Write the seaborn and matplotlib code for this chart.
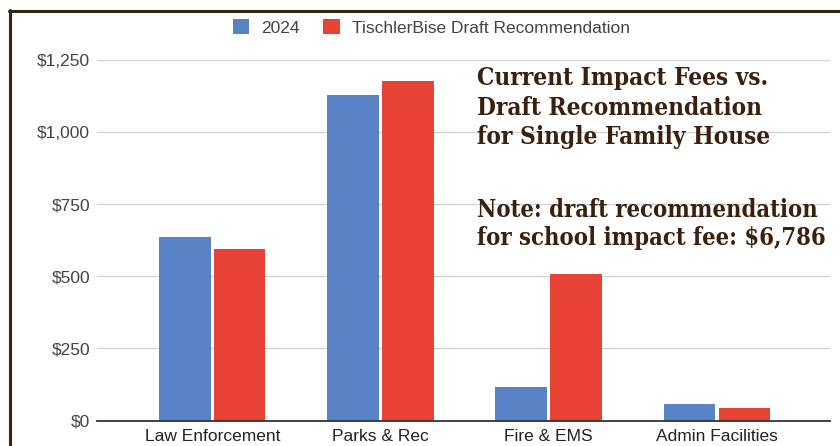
import matplotlib
matplotlib.use("Agg")
import matplotlib.pyplot as plt
from matplotlib.lines import Line2D
from matplotlib.patches import Patch
from matplotlib.ticker import FuncFormatter
import seaborn as sns
import pandas as pd

categories = ["Law Enforcement", "Parks & Rec", "Fire & EMS", "Admin Facilities"]
fees_2024 = [635, 1130, 117, 56]
fees_draft = [595, 1178, 509, 43]
series_names = ["2024", "TischlerBise Draft Recommendation"]
y_ticks = [0, 250, 500, 750, 1000, 1250]
title_lines = ["Current Impact Fees vs.", "Draft Recommendation", "for Single Family House"]
note_lines = ["Note: draft recommendation", "for school impact fee: $6,786"]

colors = ["#5a82c6", "#e94335"]
brown = "#3a200d"

df = pd.DataFrame({
    "category": categories * 2,
    "series": [series_names[0]] * len(categories) + [series_names[1]] * len(categories),
    "fee": fees_2024 + fees_draft,
})

sns.set_theme(style="white")
plt.rcParams["font.family"] = ["Liberation Sans", "DejaVu Sans"]

W, H = 840, 446
fig = plt.figure(figsize=(W / 100, H / 100), dpi=100)
ax = fig.add_axes([97 / W, 1 - 420.5 / H, 733 / W, 360.5 / H])

sns.barplot(data=df, x="category", y="fee", hue="series", order=categories,
            hue_order=series_names, palette=colors, width=0.6536, gap=0.062,
            errorbar=None, saturation=1, linewidth=0, ax=ax, legend=False)

ax.set_xlim(-0.685, 3.673)
ax.set_ylim(0, 1250)
ax.set_yticks(y_ticks)
ax.yaxis.set_major_formatter(FuncFormatter(lambda v, p: f"${int(v):,}"))
ax.grid(axis="y", color="#d2d2d2", linewidth=1.0)
ax.grid(axis="x", visible=False)
ax.set_axisbelow(True)
for s in ["top", "right", "left"]:
    ax.spines[s].set_visible(False)
ax.spines["bottom"].set_color("#333333")
ax.spines["bottom"].set_linewidth(1.3)
ax.spines["bottom"].set_zorder(5)
ax.tick_params(axis="y", length=0, pad=5, labelsize=12.5, labelcolor="#444444")
ax.tick_params(axis="x", length=0, pad=6, labelsize=12.5, labelcolor="#222222")
ax.set_xlabel("")
ax.set_ylabel("")

handles = [Patch(facecolor=c, edgecolor="none") for c in colors]
fig.legend(handles, series_names, loc="center left",
           bbox_to_anchor=(233 / W, 1 - 27.5 / H), bbox_transform=fig.transFigure,
           ncol=2, frameon=False, fontsize=12.5, labelcolor="#444444",
           handlelength=0.94, handleheight=0.94, handletextpad=0.7,
           columnspacing=1.35, borderpad=0, borderaxespad=0)

for i, line in enumerate(title_lines):
    fig.text(477 / W, 1 - (85 + i * 29.7) / H, line, family=["DejaVu Serif"],
             fontweight="bold", fontstretch="condensed", fontsize=17.5,
             color=brown, va="baseline", ha="left")
for i, line in enumerate(note_lines):
    fig.text(477 / W, 1 - (216.7 + i * 28.3) / H, line, family=["DejaVu Serif"],
             fontweight="bold", fontstretch="condensed", fontsize=17,
             color=brown, va="baseline", ha="left")

# frame of the original screenshot
fig.add_artist(Line2D([9 / W, 1], [1 - 10.5 / H, 1 - 10.5 / H], transform=fig.transFigure,
                      color="#3b2314", linewidth=2.2))
fig.add_artist(Line2D([10 / W, 10 / W], [0, 1 - 9.5 / H], transform=fig.transFigure,
                      color="#3b2314", linewidth=2.2))

fig.savefig("out.png", dpi=100, facecolor="white")
